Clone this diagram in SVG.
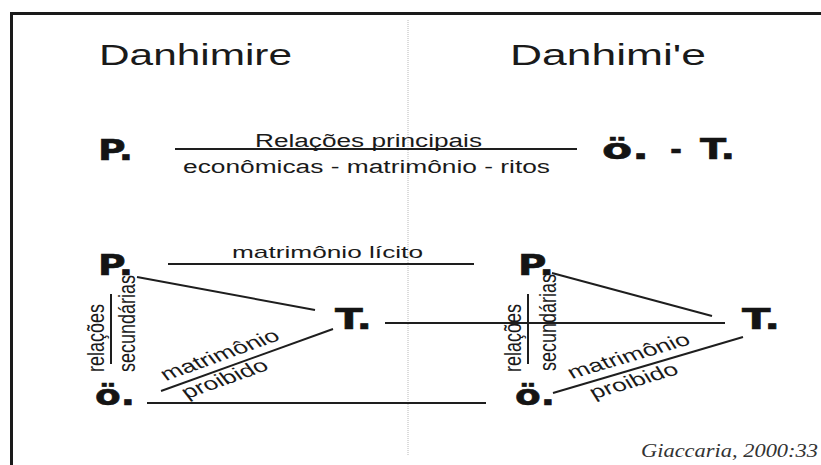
<svg xmlns="http://www.w3.org/2000/svg" width="821" height="465" viewBox="0 0 821 465">
<style>
.t{font-family:"Liberation Sans",Arial,sans-serif;fill:#1a1a1a}
.n{font-family:"DejaVu Sans","Liberation Sans",sans-serif;font-weight:bold;fill:#141414;stroke:#141414;stroke-width:0.6}
.c{font-family:"Liberation Serif","Times New Roman","DejaVu Serif",serif;font-style:italic;fill:#333}
.ln{stroke:#1e1e1e;stroke-width:2;fill:none}
</style>
<rect x="0" y="0" width="821" height="465" fill="#ffffff"/>
<g id="frame">
<line x1="10" y1="13.5" x2="821" y2="13.5" stroke="#1a1a1a" stroke-width="3"/>
<line x1="11.5" y1="12" x2="11.5" y2="465" stroke="#1a1a1a" stroke-width="3"/>
<line x1="408" y1="20" x2="408" y2="456" stroke="#b8b8b8" stroke-width="1" stroke-dasharray="1 1"/>
</g>
<g id="titles">
<text class="t" x="99" y="65" font-size="30" textLength="193" lengthAdjust="spacingAndGlyphs">Danhimire</text>
<text class="t" x="510" y="65" font-size="30" textLength="196" lengthAdjust="spacingAndGlyphs">Danhimi'e</text>
</g>
<g id="node-P-top"><text class="n" x="98" y="160" font-size="29" textLength="35" lengthAdjust="spacingAndGlyphs">P.</text></g>
<g id="node-OT-top"><text class="n" font-size="29" y="159"><tspan x="602" textLength="47" lengthAdjust="spacingAndGlyphs">ö.</tspan> <tspan x="670" textLength="12" lengthAdjust="spacingAndGlyphs">-</tspan> <tspan x="700" textLength="35" lengthAdjust="spacingAndGlyphs">T.</tspan></text></g>
<g id="node-P-left"><text class="n" x="98" y="275" font-size="28" textLength="35" lengthAdjust="spacingAndGlyphs">P.</text></g>
<g id="node-T-left"><text class="n" x="335" y="329" font-size="28" textLength="37" lengthAdjust="spacingAndGlyphs">T.</text></g>
<g id="node-O-left"><text class="n" x="95" y="405" font-size="28" textLength="40" lengthAdjust="spacingAndGlyphs">ö.</text></g>
<g id="node-P-right"><text class="n" x="518" y="275" font-size="28" textLength="36" lengthAdjust="spacingAndGlyphs">P.</text></g>
<g id="node-T-right"><text class="n" x="742" y="329" font-size="28" textLength="38" lengthAdjust="spacingAndGlyphs">T.</text></g>
<g id="node-O-right"><text class="n" x="515" y="405" font-size="28" textLength="40" lengthAdjust="spacingAndGlyphs">ö.</text></g>
<g id="connectors">
<line class="ln" x1="175" y1="149" x2="577" y2="149"/>
<line class="ln" x1="168" y1="264" x2="474" y2="264"/>
<line class="ln" x1="137" y1="277" x2="315" y2="310"/>
<line class="ln" x1="333" y1="329" x2="161" y2="391"/>
<line class="ln" x1="147" y1="403" x2="486" y2="403"/>
<line class="ln" x1="385" y1="323" x2="725" y2="323"/>
<line class="ln" x1="552" y1="273" x2="712" y2="316"/>
<line class="ln" x1="743" y1="337" x2="553" y2="393"/>
<line class="ln" x1="111" y1="294" x2="111" y2="364"/>
<line class="ln" x1="528" y1="294" x2="528" y2="364"/>
</g>
<g id="labels">
<text class="t" x="255" y="147" font-size="18" textLength="227" lengthAdjust="spacingAndGlyphs">Relações principais</text>
<text class="t" x="183" y="173" font-size="18" textLength="367" lengthAdjust="spacingAndGlyphs">econômicas - matrimônio - ritos</text>
<text class="t" x="232" y="258" font-size="17" textLength="191" lengthAdjust="spacingAndGlyphs">matrimônio lícito</text>
<text class="t" font-size="18" transform="translate(104,372) scale(1.3,1) rotate(-90)">relações</text>
<text class="t" font-size="18" transform="translate(135,372) scale(1.35,1) rotate(-90)">secundárias</text>
<text class="t" font-size="18" transform="translate(521,372) scale(1.3,1) rotate(-90)">relações</text>
<text class="t" font-size="18" transform="translate(556,371) scale(1.35,1) rotate(-90)">secundárias</text>
<text class="t" font-size="18" transform="translate(166,381) scale(1.47,1) rotate(-27.9)">matrimônio</text>
<text class="t" font-size="18" transform="translate(187,399) scale(1.47,1) rotate(-27.9)">proibido</text>
<text class="t" font-size="18" transform="translate(572,379) scale(1.47,1) rotate(-23.4)">matrimônio</text>
<text class="t" font-size="18" transform="translate(594,399) scale(1.47,1) rotate(-23.4)">proibido</text>
</g>
<g id="citation">
<text class="c" x="641" y="457" font-size="18" textLength="177" lengthAdjust="spacingAndGlyphs">Giaccaria, 2000:33</text>
</g>
</svg>
